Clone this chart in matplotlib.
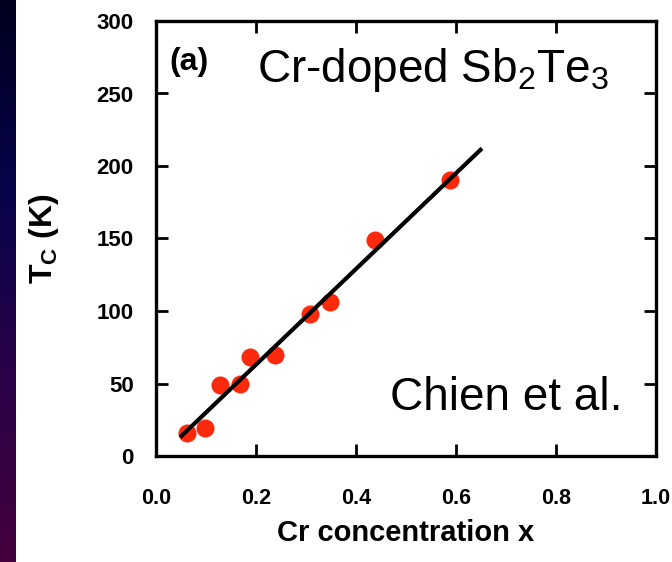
import numpy as np
import matplotlib
matplotlib.use("Agg")
import matplotlib.pyplot as plt
from matplotlib.colors import LinearSegmentedColormap

# Cr concentration x and Curie temperature Tc (K)
cr_x = [0.062, 0.098, 0.128, 0.168, 0.188, 0.238, 0.308, 0.348, 0.438, 0.588]
tc_k = [16, 19, 49, 50, 68, 70, 98, 106, 149, 190]

# linear fit drawn through the data
fit_x = [0.048, 0.652]
fit_slope = 330.0
fit_icpt = -3.0

x_ticks = [0.0, 0.2, 0.4, 0.6, 0.8, 1.0]
y_ticks = [0, 50, 100, 150, 200, 250, 300]

plt.rcParams["font.family"] = ["Liberation Sans", "DejaVu Sans"]
plt.rcParams["mathtext.fontset"] = "custom"
plt.rcParams["mathtext.rm"] = "Liberation Sans"
plt.rcParams["mathtext.bf"] = "Liberation Sans:bold"
plt.rcParams["mathtext.it"] = "Liberation Sans:italic"

fig = plt.figure(figsize=(6.72, 5.62), dpi=100)

# dark strip on the left edge of the slide
strip = fig.add_axes([0, 0, 16 / 672, 1])
cmap = LinearSegmentedColormap.from_list("strip", ["#00001e", "#07044a", "#2a0248", "#45003e"])
strip.imshow(np.linspace(0, 1, 256).reshape(-1, 1), aspect="auto", cmap=cmap)
strip.axis("off")

ax = fig.add_axes([156 / 672, 1 - 456 / 562, 500 / 672, 435 / 562])

fx = np.array(fit_x)
ax.plot(fx, fit_slope * fx + fit_icpt, color="black", lw=3.0, zorder=3,
        solid_capstyle="butt")
ax.plot(cr_x, tc_k, "o", color="#fb2a0c", ms=13, mec="none", zorder=2)

ax.set_xlim(0, 1)
ax.set_ylim(0, 300)
ax.set_xticks(x_ticks)
ax.set_yticks(y_ticks)
ax.set_xticklabels(["%.1f" % v for v in x_ticks], fontweight="bold", fontsize=15.5)
ax.set_yticklabels([str(v) for v in y_ticks], fontweight="bold", fontsize=16)
ax.tick_params(direction="in", length=8.5, width=2, top=True, right=True)
ax.tick_params(axis="x", pad=23)
ax.tick_params(axis="y", pad=16)
for s in ax.spines.values():
    s.set_linewidth(2.4)

ax.set_xlabel("Cr concentration x", fontweight="bold", fontsize=21, labelpad=7)
ax.set_ylabel(r"T$_{\mathbf{C}}$ (K)", fontweight="bold", fontsize=23, labelpad=26)

ax.text(0.026, 0.94, "(a)", transform=ax.transAxes, fontweight="bold",
        fontsize=23, va="top", ha="left")
ax.text(0.202, 0.86, r"Cr-doped Sb$_2$Te$_3$", transform=ax.transAxes,
        fontsize=33, va="baseline")
ax.text(0.934, 0.106, "Chien et al.", transform=ax.transAxes,
        fontsize=33, va="baseline", ha="right")

fig.savefig("out.png", dpi=100)
